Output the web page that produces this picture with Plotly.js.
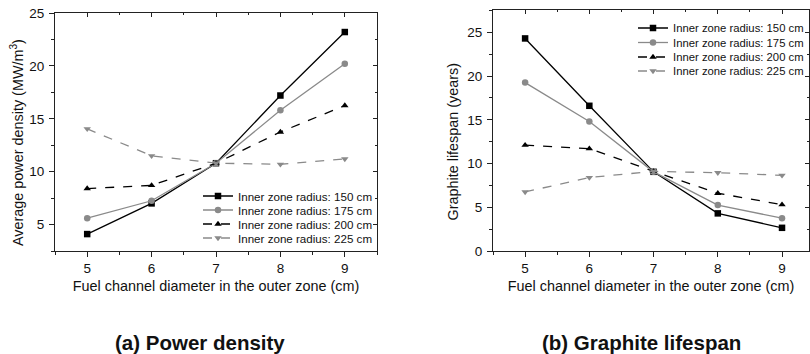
<!DOCTYPE html>
<html><head><meta charset="utf-8">
<script src="https://cdn.plot.ly/plotly-3.0.1.min.js"></script>
<style>html,body{margin:0;padding:0;background:#fff}#chart{width:810px;height:354px}</style>
</head><body><div id="chart"></div>
<script>
// ---- data ----
const diameters = [5, 6, 7, 8, 9];
const seriesNames = ['Inner zone radius: 150 cm', 'Inner zone radius: 175 cm', 'Inner zone radius: 200 cm', 'Inner zone radius: 225 cm'];
const power150 = [4.1, 7.0, 10.8, 17.2, 23.2];
const power175 = [5.6, 7.25, 10.8, 15.8, 20.2];
const power200 = [8.4, 8.7, 10.8, 13.75, 16.25];
const power225 = [14.05, 11.5, 10.8, 10.7, 11.2];
const life150 = [24.3, 16.6, 9.05, 4.3, 2.65];
const life175 = [19.25, 14.8, 9.05, 5.25, 3.75];
const life200 = [12.1, 11.7, 9.1, 6.6, 5.3];
const life225 = [6.75, 8.4, 9.1, 8.95, 8.65];
const xTitle = 'Fuel channel diameter in the outer zone (cm)';
const yTitleA = 'Average power density (MW/m<sup>3</sup>)';
const yTitleB = 'Graphite lifespan (years)';
const captions = ['(a) Power density', '(b) Graphite lifespan'];

// ---- styles ----
const FONT = 'Liberation Sans, Arial, sans-serif';
const styles = [
  {color: '#000000', dash: 'solid', symbol: 'square'},
  {color: '#8a8a8a', dash: 'solid', symbol: 'circle'},
  {color: '#000000', dash: 'dash', symbol: 'triangle-up'},
  {color: '#8a8a8a', dash: 'dash', symbol: 'triangle-down'}
];
const W = 810, H = 354;
const legRowsA = [196, 210, 224, 238];
const legRowsB = [28, 42.5, 57, 71];
const legTextA = 238, legTextB = 673;

function mk(y, i, xa, ya, legendId) {
  const s = styles[i];
  return {
    x: diameters, y: y, type: 'scatter', mode: 'lines+markers', name: seriesNames[i],
    xaxis: xa, yaxis: ya, legend: legendId,
    line: {color: s.color, width: 1.3, dash: s.dash},
    marker: {symbol: s.symbol, size: 6.5, color: s.color}
  };
}
const traces = [
  mk(power150, 0, 'x', 'y', 'legend'),
  mk(power175, 1, 'x', 'y', 'legend2'),
  mk(power200, 2, 'x', 'y', 'legend3'),
  mk(power225, 3, 'x', 'y', 'legend4'),
  mk(life150, 0, 'x2', 'y2', 'legend5'),
  mk(life175, 1, 'x2', 'y2', 'legend6'),
  mk(life200, 2, 'x2', 'y2', 'legend7'),
  mk(life225, 3, 'x2', 'y2', 'legend8'),
  {x: [], y: [], xaxis: 'x3', yaxis: 'y3', showlegend: false, type: 'scatter'},
  {x: [], y: [], xaxis: 'x4', yaxis: 'y4', showlegend: false, type: 'scatter'}
];

const AX = '#222';
function axisBase(extra) {
  return Object.assign({
    showline: true, linecolor: AX, linewidth: 1, mirror: true,
    ticks: 'outside', ticklen: 5, tickwidth: 1, tickcolor: AX,
    showgrid: false, zeroline: false, ticklabelstandoff: 0,
    tickfont: {family: FONT, size: 13.5, color: '#111'}
  }, extra);
}
function mirrorAxis(extra) {
  return Object.assign({
    showline: false, ticks: 'inside', ticklen: 4, tickwidth: 1, tickcolor: AX,
    showgrid: false, zeroline: false, showticklabels: false
  }, extra);
}
const xRangeA = [4.5, 9.5], yRangeA = [2.5, 25];
const xRangeB = [4.5, 9.42], yRangeB = [0, 27.55];
const xDomA = [55 / W, 377 / W], xDomB = [493 / W, 809 / W];
const yDomA = [1 - 251 / H, 1 - 13 / H], yDomB = [1 - 251 / H, 1 - 10 / H];
const titleFont = {family: FONT, size: 14.4, color: '#111'};

const layout = {
  width: W, height: H, margin: {l: 0, r: 0, t: 0, b: 0},
  paper_bgcolor: '#fff', plot_bgcolor: '#fff',
  font: {family: FONT, color: '#111'},
  showlegend: true,
  xaxis: axisBase({domain: xDomA, range: xRangeA, anchor: 'y', dtick: 1, tick0: 5,
    minor: {ticks: 'outside', ticklen: 3, dtick: 0.5, tick0: 4.5, tickcolor: AX},
    title: {text: xTitle, font: titleFont, standoff: 5}}),
  yaxis: axisBase({domain: yDomA, range: yRangeA, anchor: 'x', dtick: 5, tick0: 0, ticklabelstandoff: 2,
    minor: {ticks: 'outside', ticklen: 3, dtick: 2.5, tick0: 0, tickcolor: AX}}),
  xaxis2: axisBase({domain: xDomB, range: xRangeB, anchor: 'y2', dtick: 1, tick0: 5,
    minor: {ticks: 'outside', ticklen: 3, dtick: 0.5, tick0: 4.5, tickcolor: AX},
    title: {text: xTitle, font: titleFont, standoff: 5}}),
  yaxis2: axisBase({domain: yDomB, range: yRangeB, anchor: 'x2', dtick: 5, tick0: 0, ticklabelstandoff: 2,
    minor: {ticks: 'outside', ticklen: 3, dtick: 2.5, tick0: 0, tickcolor: AX}}),
  xaxis3: mirrorAxis({overlaying: 'x', side: 'top', anchor: 'y3', range: xRangeA, dtick: 1, tick0: 5,
    minor: {ticks: 'inside', ticklen: 2, dtick: 0.5, tick0: 4.5, tickcolor: AX}}),
  yaxis3: mirrorAxis({overlaying: 'y', side: 'right', anchor: 'x3', range: yRangeA, dtick: 5, tick0: 0,
    minor: {ticks: 'inside', ticklen: 2, dtick: 2.5, tick0: 0, tickcolor: AX}}),
  xaxis4: mirrorAxis({overlaying: 'x2', side: 'top', anchor: 'y4', range: xRangeB, dtick: 1, tick0: 5,
    minor: {ticks: 'inside', ticklen: 2, dtick: 0.5, tick0: 4.5, tickcolor: AX}}),
  yaxis4: mirrorAxis({overlaying: 'y2', side: 'right', anchor: 'x4', range: yRangeB, dtick: 5, tick0: 0,
    minor: {ticks: 'inside', ticklen: 2, dtick: 2.5, tick0: 0, tickcolor: AX}}),
  annotations: [
    {text: yTitleA, xref: 'paper', yref: 'paper', x: 17 / W, y: 1 - 143 / H, showarrow: false, textangle: -90,
     xanchor: 'center', yanchor: 'middle', font: titleFont},
    {text: yTitleB, xref: 'paper', yref: 'paper', x: 452 / W, y: 1 - 141.5 / H, showarrow: false, textangle: -90,
     xanchor: 'center', yanchor: 'middle', font: titleFont},
    {text: captions[0], xref: 'paper', yref: 'paper', x: 200 / W, y: 1 - 342 / H, showarrow: false,
     xanchor: 'center', yanchor: 'middle', font: {family: FONT, size: 20.5, color: '#111', weight: 'bold'}},
    {text: captions[1], xref: 'paper', yref: 'paper', x: 641 / W, y: 1 - 342 / H, showarrow: false,
     xanchor: 'center', yanchor: 'middle', font: {family: FONT, size: 20.5, color: '#111', weight: 'bold'}}
  ]
};
function legendAt(textX, rowY, size) {
  return {x: (textX - 40) / W, y: 1 - rowY / H, xanchor: 'left', yanchor: 'middle',
    bgcolor: 'rgba(0,0,0,0)', borderwidth: 0, itemwidth: 30,
    font: {family: FONT, size: size, color: '#111'}};
}
const legIds = ['legend', 'legend2', 'legend3', 'legend4', 'legend5', 'legend6', 'legend7', 'legend8'];
for (let i = 0; i < 4; i++) layout[legIds[i]] = legendAt(legTextA, legRowsA[i], 11.6);
for (let i = 0; i < 4; i++) layout[legIds[i + 4]] = legendAt(legTextB, legRowsB[i], 11.3);

Plotly.newPlot('chart', traces, layout, {staticPlot: true, displayModeBar: false});
</script>
</body></html>
